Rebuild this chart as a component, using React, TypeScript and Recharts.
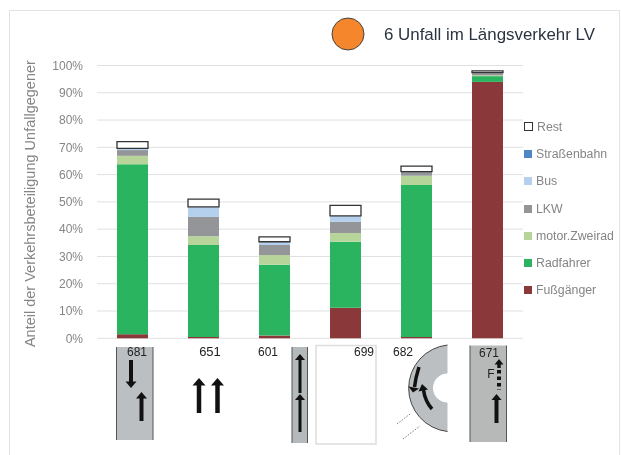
import { BarChart, Bar, XAxis, YAxis, CartesianGrid, Legend } from "recharts";

const categories = ["681", "651", "601", "699", "682", "671"];
const fussgaenger = [1.5, 0.5, 1, 11.2, 0.5, 94];
const radfahrer = [62.3, 33.7, 26, 24.2, 55.7, 2.1];
const zweirad = [3.1, 3.2, 3.5, 3.2, 3.4, 0.3];
const lkw = [2.1, 7.1, 3.7, 4.1, 1.4, 0.8];
const bus = [0.6, 3.7, 1.2, 2.2, 0.1, 0.2];
const strassenbahn = [0, 0, 0, 0, 0, 0];
const rest = [2.5, 2.8, 1.8, 3.8, 2, 0.6];
const yTicks = [0, 10, 20, 30, 40, 50, 60, 70, 80, 90, 100];

const series = [
  { key: "Fußgänger", values: fussgaenger, color: "#8B383B" },
  { key: "Radfahrer", values: radfahrer, color: "#2BB45F" },
  { key: "motor.Zweirad", values: zweirad, color: "#B7D49A" },
  { key: "LKW", values: lkw, color: "#939598" },
  { key: "Bus", values: bus, color: "#B4D0EC" },
  { key: "Straßenbahn", values: strassenbahn, color: "#4F87C5" },
  { key: "Rest", values: rest, color: "#FFFFFF" },
];

const rows = categories.map((name, i) => {
  const row: Record<string, string | number> = { name };
  series.forEach((s) => { row[s.key] = s.values[i]; });
  return row;
});

const FONT = "'Liberation Sans', Arial, sans-serif";
const GREY = "#858585";

const LegendList = () => (
  <div style={{ fontFamily: FONT, fontSize: 12.3, color: GREY }}>
    {[...series].reverse().map((s) => (
      <div key={s.key} style={{ height: 27.3, display: "flex", alignItems: "center", whiteSpace: "nowrap" }}>
        <span style={{
          width: s.key === "Rest" ? 7 : 8, height: s.key === "Rest" ? 7 : 8, marginRight: 4, marginLeft: 0,
          background: s.color, border: s.key === "Rest" ? "1px solid #333" : "none",
          boxSizing: "content-box",
        }} />
        {s.key}
      </div>
    ))}
  </div>
);

const Arrow = ({ x1, y1, x2, y2, w = 3.5, head = 6 }: { x1: number; y1: number; x2: number; y2: number; w?: number; head?: number }) => {
  const dir = y2 > y1 ? 1 : -1;
  return (
    <g fill="#111" stroke="#111">
      <line x1={x1} y1={y1} x2={x2} y2={y2 - dir * head} strokeWidth={w} />
      <path d={`M${x2} ${y2} L${x2 - head} ${y2 - dir * (head + 1)} L${x2 + head} ${y2 - dir * (head + 1)} Z`} stroke="none" />
    </g>
  );
};

const Road = ({ x, y, w, h, fill = "#BBBFC1" }: { x: number; y: number; w: number; h: number; fill?: string }) => (
  <g>
    <rect x={x} y={y} width={w} height={h} fill={fill} />
    <line x1={x} y1={y} x2={x} y2={y + h} stroke="#555" />
    <line x1={x + w} y1={y} x2={x + w} y2={y + h} stroke="#555" />
  </g>
);

const Label = ({ x, y, children, size = 12 }: { x: number; y: number; children: string; size?: number }) => (
  <text x={x} y={y} textAnchor="middle" fontSize={size} fontFamily={FONT} fill="#222">{children}</text>
);

// sketches below the bars and the title row
const Overlay = () => (
  <svg width={621} height={455} style={{ position: "absolute", left: 0, top: 0, pointerEvents: "none" }}>
    <circle cx={348} cy={34} r={16} fill="#F5862B" stroke="#444" />
    <text x={384} y={39.5} fontSize={16.9} fontFamily={FONT} fill="#2b3440">6 Unfall im Längsverkehr LV</text>

    <Road x={116.5} y={347} w={36.5} h={93} />
    <Arrow x1={131} y1={360} x2={131} y2={388} w={4} head={5.5} />
    <Arrow x1={141.5} y1={421} x2={141.5} y2={392} w={4} head={5.5} />
    <Label x={137} y={355.5}>681</Label>

    <Label x={210} y={355.5} size={13}>651</Label>
    <Arrow x1={199} y1={413} x2={199} y2={378} w={4.5} head={6.5} />
    <Arrow x1={217.5} y1={413} x2={217.5} y2={378} w={4.5} head={6.5} />

    <Label x={268} y={355.5}>601</Label>
    <Road x={292} y={347} w={15.5} h={96} fill="#B4B9BC" />
    <Arrow x1={300} y1={393} x2={300} y2={354} w={3} head={5} />
    <Arrow x1={300} y1={432} x2={300} y2={394} w={3} head={5} />

    <rect x={316} y={345.5} width={60} height={98.5} fill="#fff" stroke="#DDD" strokeWidth={1.5} />
    <Label x={364} y={356}>699</Label>

    <path d="M447.5 345 A43.5 43.5 0 0 0 447.5 431.5 L447.5 402.5 A14.5 14.5 0 0 1 447.5 373.5 Z" fill="#BBBFC1" />
    <path d="M447.5 345 A43.5 43.5 0 0 0 447.5 431.5" fill="none" stroke="#444" />
    <path d="M419 367 Q415.5 378 414.5 387" fill="none" stroke="#111" strokeWidth={3.5} />
    <path d="M408.5 386.5 L419 388.5 L413 392.5 Z" fill="#111" />
    <path d="M432 409 Q425 401 423.5 390" fill="none" stroke="#111" strokeWidth={3.5} />
    <path d="M418.5 391.5 L428 389.5 L422 384 Z" fill="#111" />
    <line x1={397} y1={424} x2={410} y2={414} stroke="#777" strokeDasharray="1.5 1.5" />
    <line x1={403} y1={439} x2={420} y2={426} stroke="#777" strokeDasharray="1.5 1.5" />
    <Label x={403} y={356}>682</Label>

    <Road x={470} y={345.5} w={36.5} h={96.5} fill="#B7B9B9" />
    <Label x={489} y={357}>671</Label>
    <Label x={491} y={378}>F</Label>
    <Arrow x1={499} y1={368} x2={499} y2={359} w={3.5} head={4.5} />
    <line x1={499} y1={370} x2={499} y2={390} stroke="#111" strokeWidth={4} strokeDasharray="3.5 3" />
    <Arrow x1={496.5} y1={423} x2={496.5} y2={394} w={4} head={5} />
  </svg>
);

export default function App() {
  return (
    <div style={{ position: "absolute", left: 0, top: 0, width: 621, height: 455, background: "#fff", overflow: "hidden", filter: "blur(0.35px)" }}>
      <div style={{ position: "absolute", left: 9, top: 10, width: 611, height: 460, border: "1px solid #E3E3E3", boxSizing: "border-box" }} />
      <BarChart
        width={621}
        height={455}
        data={rows}
        margin={{ top: 65.5, right: 1, bottom: 116.7, left: 20 }}
        barCategoryGap={0}
      >
        <CartesianGrid vertical={false} stroke="#E0E0E0" />
        <XAxis dataKey="name" tick={false} height={0} axisLine={{ stroke: "#E0E0E0" }} tickLine={false} />
        <YAxis
          width={77}
          domain={[0, 100]}
          ticks={yTicks}
          interval={0}
          tickFormatter={(v: number) => `${v}%`}
          tick={{ fontSize: 12, fill: GREY, fontFamily: FONT }}
          tickLine={false}
          axisLine={false}
          tickMargin={8}
          label={{ value: "Anteil der Verkehrsbeteiligung Unfallgegener", angle: -90, position: "insideLeft", offset: 10, dy: 1.7, fontSize: 14.5, fill: GREY, fontFamily: FONT, style: { textAnchor: "middle" } }}
        />
        <Legend content={<LegendList />} layout="vertical" align="right" verticalAlign="top" wrapperStyle={{ left: 524, top: 113, width: 97 }} />
        {series.map((s) => (
          <Bar
            key={s.key}
            dataKey={s.key}
            stackId="a"
            fill={s.color}
            barSize={31}
            stroke={s.key === "Rest" ? "#333" : "none"}
            strokeWidth={s.key === "Rest" ? 1.3 : 0}
            isAnimationActive={false}
          />
        ))}
      </BarChart>
      <Overlay />
    </div>
  );
}
